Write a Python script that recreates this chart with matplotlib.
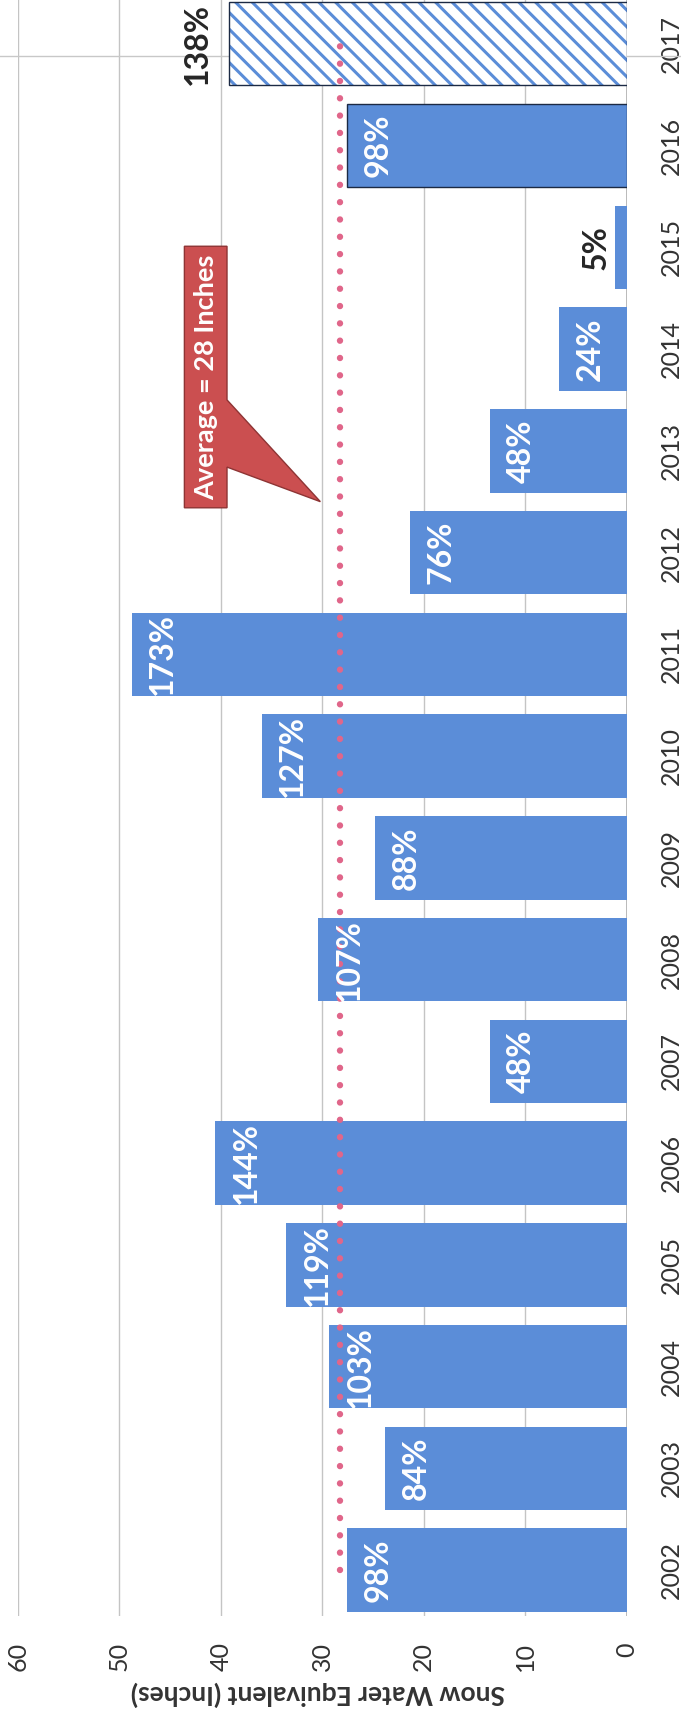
import matplotlib
matplotlib.use("Agg")
import matplotlib.pyplot as plt
from matplotlib.patches import Polygon

plt.rcParams['font.family'] = ['Lato', 'DejaVu Sans']
plt.rcParams['hatch.linewidth'] = 2.2

# data
years = [2002, 2003, 2004, 2005, 2006, 2007, 2008, 2009,
         2010, 2011, 2012, 2013, 2014, 2015, 2016, 2017]
swe = [27.6, 23.8, 29.3, 33.6, 40.6, 13.5, 30.4, 24.8,
       36.0, 48.8, 21.4, 13.5, 6.7, 1.2, 27.6, 39.2]
pct_labels = ['98%', '84%', '103%', '119%', '144%', '48%', '107%', '88%',
              '127%', '173%', '76%', '48%', '24%', '5%', '98%', '138%']
average = 28.3
outside = {2015: 3, 2017: 12}   # labels drawn outside the bar, gap in points

blue = '#5b8dd8'

fig = plt.figure(figsize=(6.81, 17.2), dpi=100)
ax = fig.add_axes([0.0264, 0.0605, 0.894, 0.9395])

# all solid bars except the hatched forecast year
solid_y = years[:-1]
solid_v = swe[:-1]
bars = ax.barh(solid_y, solid_v, height=0.82, color=blue, linewidth=0, zorder=2)
bars[-1].set_edgecolor('#1c2a44')
bars[-1].set_linewidth(1.0)

ax.barh(years[-1], swe[-1], height=0.82, facecolor='white', edgecolor=blue,
        hatch='\\\\', linewidth=0, zorder=2)
ax.barh(years[-1], swe[-1], height=0.82, fill=False, edgecolor='#1c2a44',
        linewidth=1.0, zorder=3)

# average dotted line
ax.plot([average, average], [years[0], years[-1]], color='#e0668a', lw=4.6,
        linestyle=(0, (0.01, 2.7)), dash_capstyle='round', zorder=4)

# value labels
for y, v, lab in zip(years, swe, pct_labels):
    if y in outside:
        ax.annotate(lab, (v, y), xytext=(-outside[y], 0), textcoords='offset points',
                    rotation=90, ha='right', va='center', fontsize=23,
                    fontweight='bold', color='#262626', zorder=5)
    else:
        ax.annotate(lab, (v, y), xytext=(12, 0), textcoords='offset points',
                    rotation=90, ha='left', va='center', fontsize=23,
                    fontweight='bold', color='white', zorder=5)

# callout box
box_l, box_r = 43.6, 39.4
box_t, box_b = 2015.01, 2012.44
callout = Polygon([(box_l, box_t), (box_r, box_t), (box_r, 2013.5),
                   (average + 1.9, 2012.5), (box_r, 2012.84), (box_r, box_b),
                   (box_l, box_b)], closed=True, facecolor='#cb4f50',
                  edgecolor='#8e3434', linewidth=1.0, zorder=6)
ax.add_patch(callout)
ax.text((box_l + box_r) / 2, (box_t + box_b) / 2, 'Average = 28 Inches',
        rotation=90, ha='center', va='center', fontsize=19.5, fontweight='bold',
        color='white', zorder=7)

# faint scan line across the top
ax.axhline(2016.88, xmin=-0.03, xmax=1.1, color='#c8c8c8', lw=1.0,
           clip_on=False, zorder=1)

ax.set_xlim(60, 0)
ax.set_ylim(2001.55, 2017.43)
ax.set_xticks(range(0, 61, 10))
ax.set_xticklabels([str(t) for t in range(0, 61, 10)], rotation=90,
                   fontsize=18, color='#333333')
ax.set_yticks(years)
ax.yaxis.tick_right()
ax.set_yticklabels([str(y) for y in years], rotation=90, va='center',
                   fontsize=18, color='#333333')
ax.tick_params(axis='x', length=0, pad=19)
ax.tick_params(axis='y', length=0, pad=24)

ax.grid(axis='x', color='#c4c4c4', lw=1.0, zorder=0)
ax.set_axisbelow(True)
ax.axvline(0, color='#b0b0b0', lw=1.2, zorder=1)
for s in ax.spines.values():
    s.set_visible(False)

fig.text(318 / 681, 1 - 1694 / 1720, 'Snow Water Equivalent (Inches)',
         rotation=180, ha='center', va='center', fontsize=19,
         fontweight='bold', color='#333333')

fig.savefig('out.png', dpi=100)
